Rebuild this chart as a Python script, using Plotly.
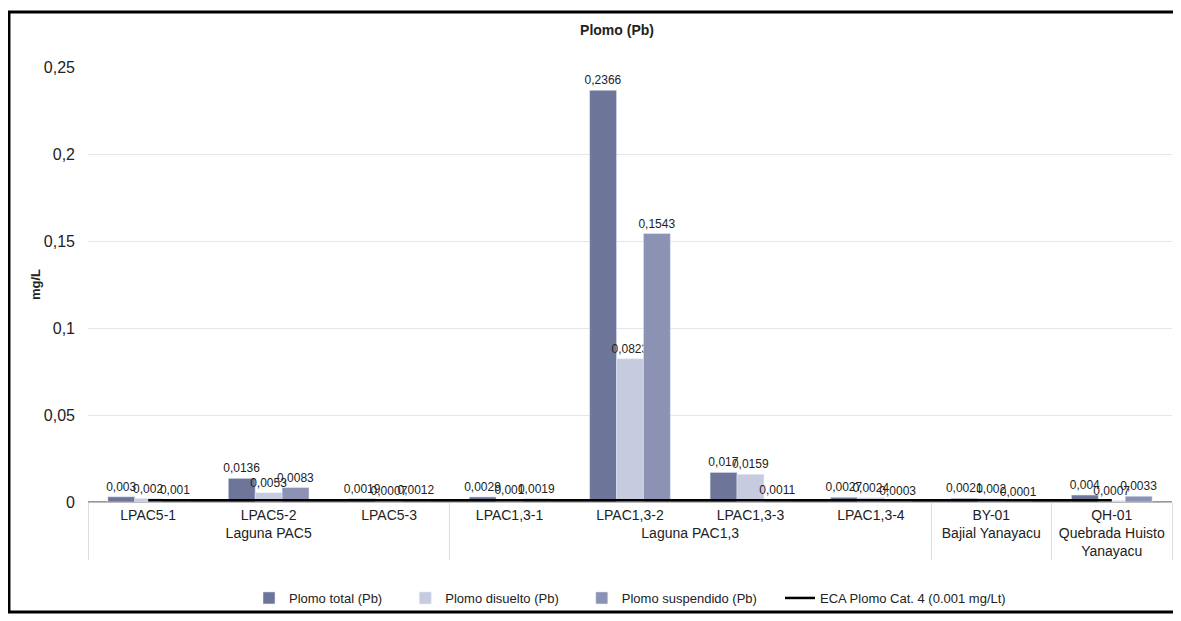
import plotly.graph_objects as go

groups = ["Laguna PAC5", "Laguna PAC5", "Laguna PAC5",
          "Laguna PAC1,3", "Laguna PAC1,3", "Laguna PAC1,3", "Laguna PAC1,3",
          "Bajial Yanayacu", "Quebrada Huisto<br>Yanayacu"]
stations = ["LPAC5-1", "LPAC5-2", "LPAC5-3",
            "LPAC1,3-1", "LPAC1,3-2", "LPAC1,3-3", "LPAC1,3-4",
            "BY-01", "QH-01"]
pb_total = [0.003, 0.0136, 0.0019, 0.0029, 0.2366, 0.017, 0.0027, 0.0021, 0.004]
pb_disuelto = [0.002, 0.0053, 0.0007, 0.001, 0.0823, 0.0159, 0.0024, 0.002, 0.0007]
pb_suspendido = [0.001, 0.0083, 0.0012, 0.0019, 0.1543, 0.0011, 0.0003, 0.0001, 0.0033]
eca = [0.001] * len(stations)
series_names = ["Plomo total (Pb)", "Plomo disuelto (Pb)", "Plomo suspendido (Pb)",
                "ECA Plomo Cat. 4 (0.001 mg/Lt)"]

def fmt(v):
    return str(v).replace(".", ",")

pad = "\u00a0" * 5
x = [groups, stations]
fig = go.Figure()
series = [(series_names[0], pb_total, "#6d7599"),
          (series_names[1], pb_disuelto, "#c6cbe0"),
          (series_names[2], pb_suspendido, "#8b92b4")]
for name, vals, col in series:
    fig.add_trace(go.Bar(x=x, y=vals, name=name + pad, marker_color=col,
                         text=[fmt(v) for v in vals], textposition="outside",
                         constraintext="none",
                         textfont=dict(size=12, color="#222"), cliponaxis=False))
fig.add_trace(go.Scatter(x=x, y=eca, mode="lines", name=series_names[3],
                         line=dict(color="black", width=2.5)))

fig.update_layout(
    width=1181, height=621,
    separators=",.",
    font=dict(family="Liberation Sans, Arial, sans-serif", color="#222"),
    paper_bgcolor="white", plot_bgcolor="white",
    margin=dict(l=80, r=17, t=59, b=127),
    barmode="group", bargap=0.33, bargroupgap=0,
    title=dict(text="<b>Plomo (Pb)</b>", x=0.5157, xanchor="center", y=0.9646, yanchor="middle",
               font=dict(size=14, color="#222")),
    xaxis=dict(type="multicategory", tickfont=dict(size=14, color="#222"),
               showline=True, linecolor="#bbb", showdividers=True, dividercolor="#ddd",
               dividerwidth=1),
    yaxis=dict(range=[0, 0.25], dtick=0.05, showgrid=True, gridcolor="#e6e6e6",
               zeroline=True, zerolinecolor="#999", tickfont=dict(size=16, color="#222"),
               ticklabelstandoff=12,
               title=dict(text="<b>mg/L</b>", font=dict(size=13, color="#222"), standoff=0)),
    legend=dict(orientation="h", x=0.5, xanchor="center", y=-0.2207, yanchor="middle",
                font=dict(size=13, color="#222"), traceorder="normal",
                bgcolor="rgba(0,0,0,0)", itemwidth=30),
    shapes=[dict(type="rect", xref="paper", yref="paper",
                 x0=-0.0729, x1=1.0046, y0=-0.2529, y1=1.1264,
                 line=dict(color="black", width=3), layer="above")],
)

fig.write_html("out.html")
